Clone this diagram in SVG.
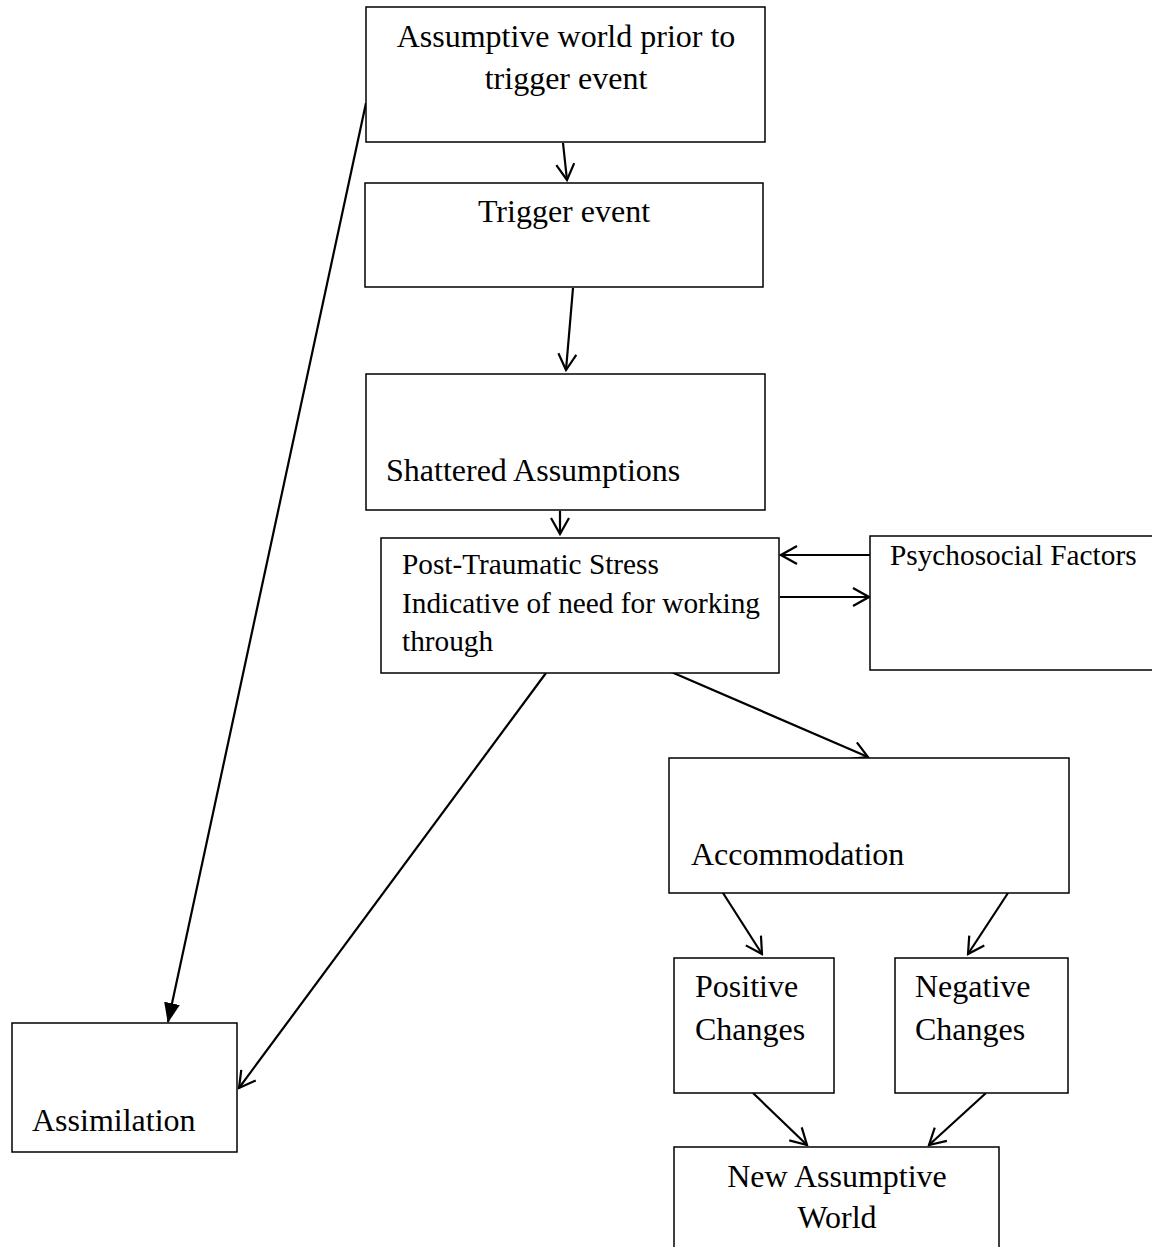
<svg xmlns="http://www.w3.org/2000/svg" width="1152" height="1247" viewBox="0 0 1152 1247">
<defs>
<style>
.box{fill:#fff;stroke:#000;stroke-width:1.5}
.t{font-family:"Liberation Serif","Times New Roman",serif;font-size:32px;fill:#000}
.s{font-size:29.3px}
.c{text-anchor:middle}
.ln{stroke:#000;stroke-width:2.2;fill:none}
</style>
<marker id="open" viewBox="0 0 20 20" refX="18" refY="10" markerWidth="20" markerHeight="20" markerUnits="userSpaceOnUse" orient="auto">
<path d="M2,1 L18,10 L2,19" fill="none" stroke="#000" stroke-width="2.2"/>
</marker>
<marker id="fill" viewBox="0 0 20 20" refX="19" refY="10" markerWidth="20" markerHeight="20" markerUnits="userSpaceOnUse" orient="auto">
<path d="M0,2 L20,10 L0,18 Z" fill="#000"/>
</marker>
</defs>
<g id="connectors">
<line class="ln" x1="563" y1="143" x2="567" y2="180" marker-end="url(#open)"/>
<line class="ln" x1="573" y1="288" x2="566" y2="370" marker-end="url(#open)"/>
<line class="ln" x1="560" y1="511" x2="560" y2="534" marker-end="url(#open)"/>
<line class="ln" x1="870" y1="555" x2="781" y2="555" marker-end="url(#open)"/>
<line class="ln" x1="780" y1="597" x2="869" y2="597" marker-end="url(#open)"/>
<line class="ln" x1="669" y1="671" x2="868" y2="757" marker-end="url(#open)"/>
<line class="ln" x1="546" y1="673" x2="239" y2="1088" marker-end="url(#open)"/>
<line class="ln" x1="366" y1="103" x2="168" y2="1022" marker-end="url(#fill)"/>
<line class="ln" x1="723" y1="893" x2="762" y2="954" marker-end="url(#open)"/>
<line class="ln" x1="1008" y1="893" x2="968" y2="954" marker-end="url(#open)"/>
<line class="ln" x1="753" y1="1093" x2="807" y2="1145" marker-end="url(#open)"/>
<line class="ln" x1="986" y1="1093" x2="929" y2="1145" marker-end="url(#open)"/>
</g>
<g id="assumptive-world">
<rect class="box" x="366" y="7" width="399" height="135"/>
<text class="t c" x="566" y="47">Assumptive world prior to</text>
<text class="t c" x="566" y="89">trigger event</text>
</g>
<g id="trigger-event">
<rect class="box" x="365" y="183" width="398" height="104"/>
<text class="t c" x="564" y="222">Trigger event</text>
</g>
<g id="shattered-assumptions">
<rect class="box" x="366" y="374" width="399" height="136"/>
<text class="t" x="386" y="481">Shattered Assumptions</text>
</g>
<g id="post-traumatic-stress">
<rect class="box" x="381" y="538" width="398" height="135"/>
<text class="t s" x="402" y="574">Post-Traumatic Stress</text>
<text class="t s" x="402" y="613">Indicative of need for working</text>
<text class="t s" x="402" y="651">through</text>
</g>
<g id="psychosocial-factors">
<rect class="box" x="870" y="536" width="300" height="134"/>
<text class="t s" x="890" y="565">Psychosocial Factors</text>
</g>
<g id="accommodation">
<rect class="box" x="669" y="758" width="400" height="135"/>
<text class="t" x="691" y="865">Accommodation</text>
</g>
<g id="positive-changes">
<rect class="box" x="674" y="958" width="160" height="135"/>
<text class="t" x="695" y="997">Positive</text>
<text class="t" x="695" y="1040">Changes</text>
</g>
<g id="negative-changes">
<rect class="box" x="895" y="958" width="173" height="135"/>
<text class="t" x="915" y="997">Negative</text>
<text class="t" x="915" y="1040">Changes</text>
</g>
<g id="new-assumptive-world">
<rect class="box" x="674" y="1147" width="325" height="120"/>
<text class="t c" x="837" y="1187">New Assumptive</text>
<text class="t c" x="837" y="1228">World</text>
</g>
<g id="assimilation">
<rect class="box" x="12" y="1023" width="225" height="129"/>
<text class="t" x="32" y="1131">Assimilation</text>
</g>
</svg>
